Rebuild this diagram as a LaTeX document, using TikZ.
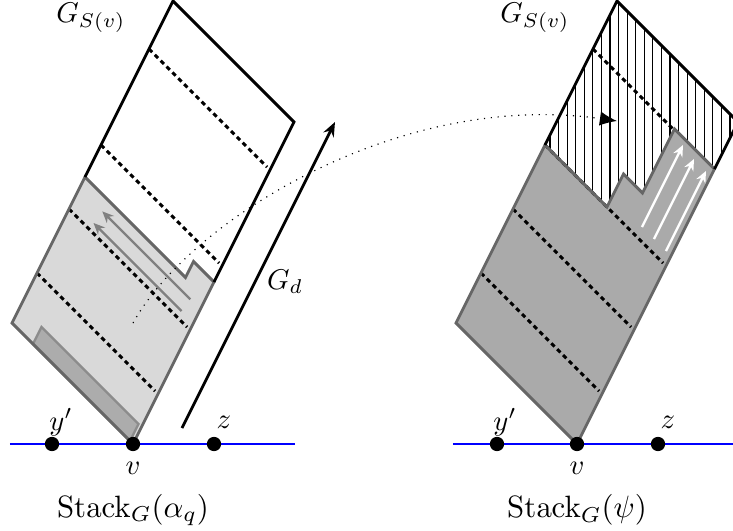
\documentclass[tikz,border=0pt]{standalone}
\usepackage{amsmath, amssymb}
\usepackage{xcolor}
\usepackage{tikz}
\usetikzlibrary{positioning, patterns, arrows.meta}

\tikzset{
    vertex/.style={circle, fill=black, inner sep=0pt, minimum size=5pt},
    groundline/.style={blue, line width=1pt},
    outline/.style={line width=1pt, line join=miter},
    grayrim/.style={line width=1pt, draw=black!60},
    levelline/.style={line width=1pt, dash pattern=on 1.6pt off 1.3pt},
    grayarrow/.style={-{Stealth[length=4pt, width=3.5pt]}, black!50, line width=0.8pt},
    whitearrow/.style={-{Stealth[length=4pt, width=3.5pt]}, white, line width=0.8pt},
}

\begin{document}
\begin{tikzpicture}[x=0.35pt, y=-0.35pt, >={Stealth[length=5pt, width=4pt]}]

    \useasboundingbox (0,0) rectangle (733,531);

    % =================================================================
    % 1. LEFT STACK  (skewed frame: a goes up-left, t goes up-right)
    % =================================================================
    \begin{scope}[shift={(133,444)}, x={(-0.35pt,0.35pt)}, y={(0.35pt,0.7pt)}]
        \fill[gray!30] (0,0) -- (121,0) -- (121,73) -- (20.5,73) -- (20.5,81) -- (0,81) -- cycle;
        \filldraw[fill=gray!65, draw=black!45, line width=0.8pt]
            (3,0) -- (100,0) -- (100,8.5) -- (3,8.5) -- cycle;

        % dashed levels
        \foreach \lv in {25,57,89,137}
            \draw[levelline] (121,\lv) -- (3,\lv);

        \draw[grayrim] (0,0) -- (121,0) -- (121,73) -- (20.5,73) -- (20.5,81) -- (0,81) -- cycle;
        \draw[outline] (121,73) -- (121,161) -- (0,161) -- (0,81);

        % moves inside the stack
        \draw[grayarrow] (10,67.3) -- (98,67.3);
        \draw[grayarrow] (12,60.5) -- (100,60.5);
    \end{scope}

    % =================================================================
    % 2. RIGHT STACK
    % =================================================================
    \begin{scope}[shift={(577,444)}, x={(-0.35pt,0.35pt)}, y={(0.35pt,0.7pt)}]
        \fill[gray!67] (0,0) -- (121,0) -- (121,89) -- (59,89) -- (59,105.5)
            -- (40,105.5) -- (40,137.5) -- (0,137.5) -- cycle;
        \fill[pattern=vertical lines] (121,89) -- (121,161) -- (0,161) -- (0,137.5)
            -- (40,137.5) -- (40,105.5) -- (59,105.5) -- (59,89) -- cycle;

        % dashed levels
        \foreach \lv in {25,57,89}
            \draw[levelline] (121,\lv) -- (3,\lv);
        \draw[levelline] (121,137) -- (40,137);

        \draw[grayrim] (0,0) -- (121,0) -- (121,89) -- (59,89) -- (59,105.5)
            -- (40,105.5) -- (40,137.5) -- (0,137.5) -- cycle;
        \draw[outline] (121,89) -- (121,161) -- (0,161) -- (0,137.5);

        % moves inside the stack
        \draw[whitearrow] (29,94) -- (29,135);
        \draw[whitearrow] (17,94) -- (17,134);
        \draw[whitearrow] (5,94) -- (5,134);
    \end{scope}

    % =================================================================
    % 3. GROUND LINES AND VERTICES
    % =================================================================
    \coordinate (gla) at (10,444);
    \coordinate (glb) at (295,444);
    \coordinate (gra) at (453,444);
    \coordinate (grb) at (740,444);
    \draw[groundline] (gla) -- (glb);
    \draw[groundline] (gra) -- (grb);

    \node[vertex] (yl) at (52,444) {};
    \node[vertex] (vl) at (133,444) {};
    \node[vertex] (zl) at (214,444) {};
    \node[vertex] (yr) at (497,444) {};
    \node[vertex] (vr) at (577,444) {};
    \node[vertex] (zr) at (658,444) {};

    % labels of the vertices
    \node[anchor=base] (yll) at (61,430) {$y'$};
    \node[anchor=base] (zll) at (224,428) {$z$};
    \node[below=0pt of vl] (vll) {$v$};
    \node[anchor=base] (yrl) at (505,430) {$y'$};
    \node[anchor=base] (zrl) at (668,428) {$z$};
    \node[below=0pt of vr] (vrl) {$v$};

    % =================================================================
    % 4. CAPTIONS AND THE G_d ARROW
    % =================================================================
    \node (gsl) at (91,18) {$G_{S(v)}$};
    \node (gsr) at (535,18) {$G_{S(v)}$};
    \node[scale=1.08] (stl) at (133,510) {$\mathrm{Stack}_G(\alpha_q)$};
    \node[scale=1.08] (str) at (577,510) {$\mathrm{Stack}_G(\psi)$};

    \coordinate (gda) at (182,428);
    \coordinate (gdb) at (335,122);
    \draw[->, line width=1pt] (gda) -- (gdb);
    \node (gd) at (285,282) {$G_d$};

    % dotted correspondence
    \coordinate (dsa) at (133,323);
    \coordinate (dsb) at (617,121);
    \draw[dotted, -{Latex[length=6pt, width=5pt]}] (dsa) .. controls (190,220) and (400,90) .. (dsb);

\end{tikzpicture}
\end{document}
